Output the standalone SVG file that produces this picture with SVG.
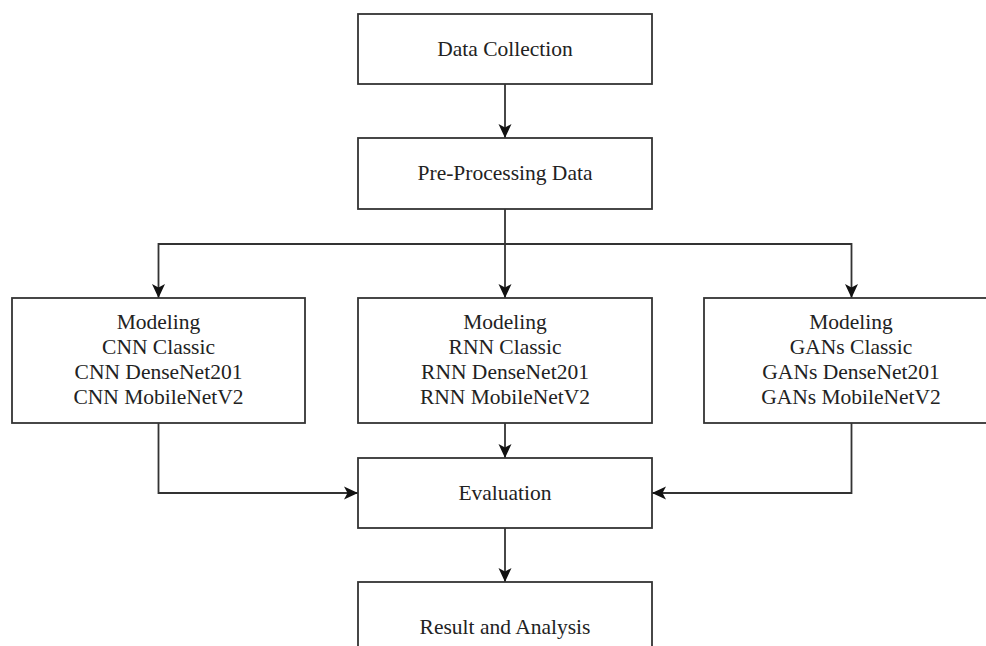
<svg xmlns="http://www.w3.org/2000/svg" width="986" height="646" viewBox="0 0 986 646">
<defs>
<marker id="ah" viewBox="0 0 14 14" refX="14" refY="7" markerWidth="14" markerHeight="14" markerUnits="userSpaceOnUse" orient="auto">
<path d="M0,0.5 L14,7 L0,13.5 L3.5,7 Z" fill="#111"/>
</marker>
<style>
.box{fill:#fff;stroke:#333;stroke-width:1.8}
.t{font-family:"Liberation Serif","Times New Roman",serif;font-size:21.5px;fill:#222;text-anchor:middle}
.c{fill:none;stroke:#333;stroke-width:1.8;marker-end:url(#ah)}
</style>
</defs>
<rect width="986" height="646" fill="#fff"/>
<g id="connectors">
<path class="c" d="M505,84 V138"/>
<path class="c" d="M505,209 V298"/>
<path class="c" d="M505,244 H158.5 V298"/>
<path class="c" d="M505,244 H851.5 V298"/>
<path class="c" d="M505,423 V458"/>
<path class="c" d="M158.5,423 V493 H358"/>
<path class="c" d="M851.5,423 V493 H652"/>
<path class="c" d="M505,528 V582"/>
</g>
<g id="data-collection"><rect class="box" x="358" y="14" width="294" height="70"/><text class="t" x="505" y="56">Data Collection</text></g>
<g id="pre-processing"><rect class="box" x="358" y="138" width="294" height="71"/><text class="t" x="505" y="180">Pre-Processing Data</text></g>
<g id="cnn"><rect class="box" x="12" y="298" width="293" height="125"/>
<text class="t" x="158.5" y="329">Modeling</text><text class="t" x="158.5" y="354">CNN Classic</text><text class="t" x="158.5" y="379">CNN DenseNet201</text><text class="t" x="158.5" y="404">CNN MobileNetV2</text></g>
<g id="rnn"><rect class="box" x="358" y="298" width="294" height="125"/>
<text class="t" x="505" y="329">Modeling</text><text class="t" x="505" y="354">RNN Classic</text><text class="t" x="505" y="379">RNN DenseNet201</text><text class="t" x="505" y="404">RNN MobileNetV2</text></g>
<g id="gans"><rect class="box" x="704" y="298" width="294" height="125"/>
<text class="t" x="851" y="329">Modeling</text><text class="t" x="851" y="354">GANs Classic</text><text class="t" x="851" y="379">GANs DenseNet201</text><text class="t" x="851" y="404">GANs MobileNetV2</text></g>
<g id="evaluation"><rect class="box" x="358" y="458" width="294" height="70"/><text class="t" x="505" y="500">Evaluation</text></g>
<g id="result"><rect class="box" x="358" y="582" width="294" height="80"/><text class="t" x="505" y="634">Result and Analysis</text></g>
</svg>
